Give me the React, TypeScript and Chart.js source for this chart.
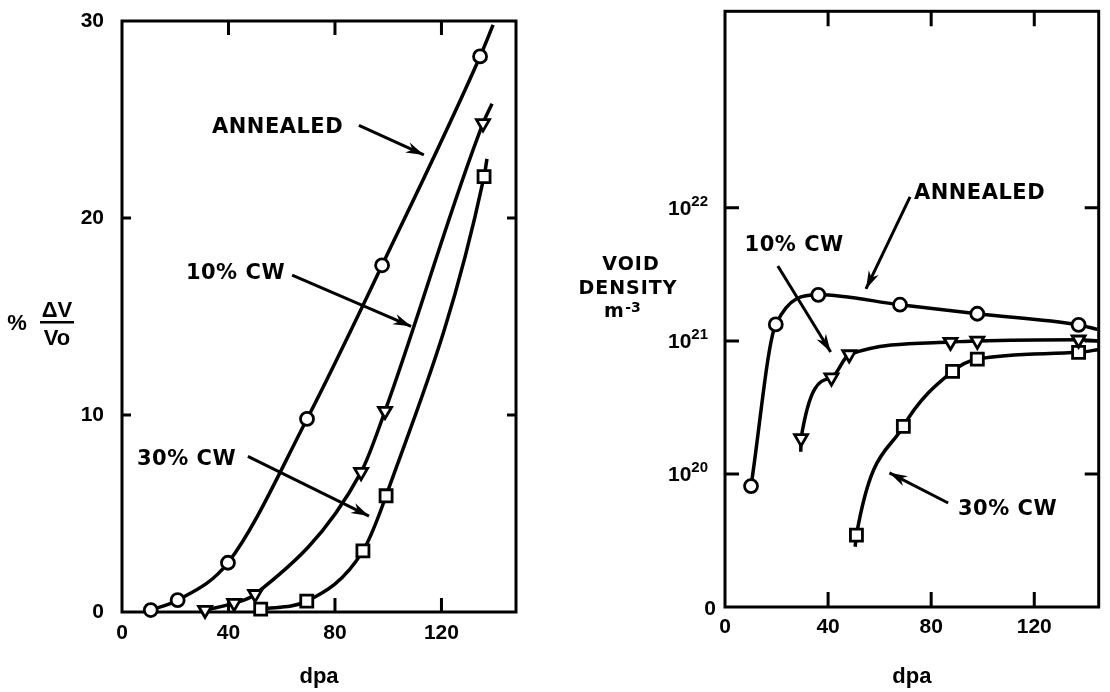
import React, { useEffect, useRef } from 'react';
import { Chart, registerables } from 'chart.js';
Chart.register(...registerables);

// ---------- axis ticks ----------
const dpaTicks = [0, 40, 80, 120];
const swellingTicks = [0, 10, 20, 30];
const densityTicks = [1e19, 1e20, 1e21, 1e22];
const densityTickBase = ['0', '10', '10', '10'];
const densityTickSup = ['', '20', '21', '22'];

// ---------- left panel: % ΔV/Vo vs dpa ----------
const swAnnealedX = [10.8, 20.9, 39.8, 69.5, 97.7, 134.5];
const swAnnealedY = [0.1, 0.6, 2.5, 9.8, 17.6, 28.2];
const sw10X = [31.2, 42.1, 50.0, 89.8, 98.8, 135.6];
const sw10Y = [0.1, 0.45, 0.9, 7.1, 10.2, 24.8];
const sw30X = [52.1, 69.4, 90.5, 99.2, 136.0];
const sw30Y = [0.15, 0.55, 3.1, 5.9, 22.1];
// where each drawn curve ends beyond its last point (annealed, 10% CW, 30% CW)
const swCurveEndX = [139.4, 139.0, 137.1];
const swCurveEndY = [29.8, 25.8, 23.0];

// ---------- right panel: void density vs dpa ----------
const vdAnnealedX = [10.1, 19.7, 36.2, 67.9, 97.9, 137.2];
const vdAnnealedY = [8.1e19, 1.33e21, 2.22e21, 1.87e21, 1.6e21, 1.32e21];
const vd10X = [29.5, 41.3, 48.2, 87.5, 97.9, 137.2];
const vd10Y = [1.85e20, 5.3e20, 7.9e20, 9.8e20, 1.0e21, 1.02e21];
const vd30X = [51.0, 69.2, 88.3, 97.9, 137.2];
const vd30Y = [3.47e19, 2.28e20, 5.9e20, 7.3e20, 8.2e20];
// curve starts below the first point (10% CW, 30% CW) and ends (annealed, 10%, 30%)
const vdCurveStartX = [29.4, 50.5];
const vdCurveStartY = [1.47e20, 2.84e19];
const vdCurveEndX = [144.5, 145.0, 145.0];
const vdCurveEndY = [1.22e21, 1.0e21, 8.6e20];

type Pt = { x: number; y: number };
const pts = (xs: number[], ys: number[]): Pt[] => xs.map((x, i) => ({ x, y: ys[i] }));

type Note = { text: string; tx: number; ty: number; from: [number, number]; to: [number, number] };

const leftNotes: Note[] = [
  { text: 'ANNEALED', tx: 33.8, ty: 24.6, from: [89, 24.7], to: [113.4, 23.2] },
  { text: '10% CW', tx: 24, ty: 17.2, from: [63.9, 17.1], to: [108.6, 14.5] },
  { text: '30% CW', tx: 5.6, ty: 7.75, from: [47.3, 7.9], to: [92.8, 4.87] },
];
const rightNotes: Note[] = [
  { text: 'ANNEALED', tx: 73.3, ty: 1.27e22, from: [71.8, 1.21e22], to: [54.7, 2.46e21] },
  { text: '10% CW', tx: 7.6, ty: 5.18e21, from: [20.5, 3.66e21], to: [41, 8.26e20] },
  { text: '30% CW', tx: 90.4, ty: 5.36e19, from: [86.6, 6.05e19], to: [63.8, 1.02e20] },
];

const SANS = '"Liberation Sans", Arial, sans-serif';
const TICK_FONT = { family: SANS, weight: 'bold' as const, size: 21 };
const NOTE_FONT = 'bold 21px "DejaVu Sans", sans-serif';

function drawArrow(ctx: CanvasRenderingContext2D, x1: number, y1: number, x2: number, y2: number) {
  ctx.beginPath();
  ctx.moveTo(x1, y1);
  ctx.lineTo(x2, y2);
  ctx.stroke();
  const a = Math.atan2(y2 - y1, x2 - x1);
  const c = Math.cos(a), s = Math.sin(a);
  const L = 18, W = 5.5;
  ctx.beginPath();
  ctx.moveTo(x2, y2);
  ctx.lineTo(x2 - L * c + W * s, y2 - L * s - W * c);
  ctx.lineTo(x2 - L * 0.7 * c, y2 - L * 0.7 * s);
  ctx.lineTo(x2 - L * c - W * s, y2 - L * s + W * c);
  ctx.closePath();
  ctx.fill();
}

function makeDecor(cfg: {
  xTicks: number[];
  yTicks: number[];
  xLen: number;
  yLen: number;
  notes: Note[];
  title: (ctx: CanvasRenderingContext2D, chart: any) => void;
}) {
  return {
    id: 'decor',
    beforeDatasetsDraw(chart: any) {
      const { ctx, chartArea: a, scales } = chart;
      ctx.save();
      ctx.strokeStyle = '#000';
      ctx.lineWidth = 3;
      ctx.strokeRect(a.left, a.top, a.right - a.left, a.bottom - a.top);
      ctx.beginPath();
      for (const v of cfg.xTicks) {
        const px = scales.x.getPixelForValue(v);
        ctx.moveTo(px, a.bottom);
        ctx.lineTo(px, a.bottom - cfg.xLen);
        ctx.moveTo(px, a.top);
        ctx.lineTo(px, a.top + cfg.xLen);
      }
      for (const v of cfg.yTicks) {
        const py = scales.y.getPixelForValue(v);
        ctx.moveTo(a.left, py);
        ctx.lineTo(a.left + cfg.yLen, py);
        ctx.moveTo(a.right, py);
        ctx.lineTo(a.right - cfg.yLen, py);
      }
      ctx.stroke();
      ctx.restore();
    },
    afterDatasetsDraw(chart: any) {
      const { ctx, scales } = chart;
      ctx.save();
      ctx.fillStyle = '#000';
      ctx.strokeStyle = '#000';
      ctx.lineWidth = 3;
      ctx.font = NOTE_FONT;
      (ctx as any).letterSpacing = '0.5px';
      ctx.textAlign = 'left';
      ctx.textBaseline = 'middle';
      for (const n of cfg.notes) {
        ctx.fillText(n.text, scales.x.getPixelForValue(n.tx), scales.y.getPixelForValue(n.ty));
        drawArrow(
          ctx,
          scales.x.getPixelForValue(n.from[0]),
          scales.y.getPixelForValue(n.from[1]),
          scales.x.getPixelForValue(n.to[0]),
          scales.y.getPixelForValue(n.to[1])
        );
      }
      (ctx as any).letterSpacing = '0px';
      cfg.title(ctx, chart);
      ctx.restore();
    },
  };
}

function curveDs(data: Pt[]) {
  return {
    type: 'line' as const,
    data,
    borderColor: '#000',
    borderWidth: 3.5,
    pointRadius: 0,
    fill: false,
    cubicInterpolationMode: 'monotone' as const,
    clip: false as any,
    order: 2,
  };
}
function markerDs(data: Pt[], style: string, radius: number, rotation = 0) {
  return {
    type: 'line' as const,
    data,
    showLine: false,
    pointStyle: style as any,
    pointRadius: radius,
    pointRotation: rotation,
    pointBorderWidth: 2.8,
    pointBorderColor: '#000',
    pointBackgroundColor: '#fff',
    clip: false as any,
    order: 1,
  };
}

const noPad = (s: any) => {
  s.paddingTop = 0;
  s.paddingBottom = 0;
  s.paddingLeft = 0;
  s.paddingRight = 0;
};

function dpaScale(xMax: number, tickPadX: number, axisHeight: number) {
  return {
    type: 'linear' as const,
    min: 0,
    max: xMax,
    afterBuildTicks: (s: any) => {
      s.ticks = dpaTicks.map((v) => ({ value: v }));
    },
    afterFit: (s: any) => {
      s.height = axisHeight;
      noPad(s);
    },
    grid: { display: false, drawTicks: false },
    border: { display: false },
    ticks: { color: '#000', font: TICK_FONT, padding: tickPadX, maxRotation: 0, autoSkip: false },
    title: {
      display: true,
      text: 'dpa',
      color: '#000',
      font: { family: SANS, weight: 'bold' as const, size: 22 },
      padding: { top: 0, bottom: 2 },
    },
  };
}

export default function App() {
  const leftRef = useRef<HTMLCanvasElement>(null);
  const rightRef = useRef<HTMLCanvasElement>(null);

  useEffect(() => {
    const leftDecor = makeDecor({
      xTicks: [40, 80, 120],
      yTicks: [10, 20],
      xLen: 14,
      yLen: 9,
      notes: leftNotes,
      title: (ctx) => {
        ctx.font = `bold 22px ${SANS}`;
        ctx.textAlign = 'center';
        ctx.textBaseline = 'middle';
        ctx.fillText('%', 17, 324);
        ctx.fillText('ΔV', 57, 311);
        ctx.fillRect(40, 321, 34, 2.5);
        ctx.fillText('Vo', 57, 339);
      },
    });

    const left = new Chart(leftRef.current!, {
      type: 'line',
      data: {
        datasets: [
          markerDs(pts(swAnnealedX, swAnnealedY), 'circle', 6.5),
          markerDs(pts(sw10X, sw10Y), 'triangle', 7.5, 180),
          markerDs(pts(sw30X, sw30Y), 'rect', 8.5),
          curveDs([...pts(swAnnealedX, swAnnealedY), { x: swCurveEndX[0], y: swCurveEndY[0] }]),
          curveDs([...pts(sw10X, sw10Y), { x: swCurveEndX[1], y: swCurveEndY[1] }]),
          curveDs([...pts(sw30X, sw30Y), { x: swCurveEndX[2], y: swCurveEndY[2] }]),
        ] as any,
      },
      options: {
        responsive: false,
        animation: false,
        parsing: false as any,
        layout: { padding: { left: 0, right: 44, top: 21, bottom: 0 } },
        plugins: { legend: { display: false }, tooltip: { enabled: false } },
        scales: {
          x: dpaScale(148, 9, 80) as any,
          y: {
            type: 'linear',
            min: 0,
            max: 30,
            afterBuildTicks: (s: any) => {
              s.ticks = swellingTicks.map((v) => ({ value: v }));
            },
            afterFit: (s: any) => {
              s.width = 122;
              noPad(s);
            },
            grid: { display: false, drawTicks: false },
            border: { display: false },
            ticks: { color: '#000', font: TICK_FONT, padding: 18 },
          },
        },
      },
      plugins: [leftDecor as any],
    });

    const rightDecor = makeDecor({
      xTicks: [40, 80, 120],
      yTicks: [1e20, 1e21, 1e22],
      xLen: 15,
      yLen: 14,
      notes: rightNotes,
      title: (ctx, chart) => {
        // y tick labels (powers of ten) placed by the log scale
        const ys = chart.scales.y;
        const edge = chart.chartArea.left;
        ctx.textBaseline = 'middle';
        densityTicks.forEach((v, i) => {
          const py = ys.getPixelForValue(v);
          const sup = densityTickSup[i];
          if (!sup) {
            ctx.font = `bold 21px ${SANS}`;
            ctx.textAlign = 'right';
            ctx.fillText(densityTickBase[i], edge - 9, py + 2);
            return;
          }
          ctx.font = `bold 15px ${SANS}`;
          const sw = ctx.measureText(sup).width;
          ctx.textAlign = 'left';
          ctx.fillText(sup, edge - 17 - sw, py - 6);
          ctx.font = `bold 21px ${SANS}`;
          ctx.textAlign = 'right';
          ctx.fillText(densityTickBase[i], edge - 17 - sw, py + 1);
        });
        ctx.font = 'bold 19px "DejaVu Sans", sans-serif';
        (ctx as any).letterSpacing = '1px';
        ctx.textAlign = 'center';
        ctx.fillText('VOID', 71, 265);
        ctx.fillText('DENSITY', 68, 289);
        (ctx as any).letterSpacing = '0px';
        ctx.fillText('m', 54, 312);
        ctx.font = 'bold 14px "DejaVu Sans", sans-serif';
        ctx.fillText('-3', 73, 308);
      },
    });

    const right = new Chart(rightRef.current!, {
      type: 'line',
      data: {
        datasets: [
          markerDs(pts(vdAnnealedX, vdAnnealedY), 'circle', 6.5),
          markerDs(pts(vd10X, vd10Y), 'triangle', 7.5, 180),
          markerDs(pts(vd30X, vd30Y), 'rect', 8.5),
          curveDs([...pts(vdAnnealedX, vdAnnealedY), { x: vdCurveEndX[0], y: vdCurveEndY[0] }]),
          curveDs([
            { x: vdCurveStartX[0], y: vdCurveStartY[0] },
            ...pts(vd10X, vd10Y),
            { x: vdCurveEndX[1], y: vdCurveEndY[1] },
          ]),
          curveDs([
            { x: vdCurveStartX[1], y: vdCurveStartY[1] },
            ...pts(vd30X, vd30Y),
            { x: vdCurveEndX[2], y: vdCurveEndY[2] },
          ]),
        ] as any,
      },
      options: {
        responsive: false,
        animation: false,
        parsing: false as any,
        layout: { padding: { left: 0, right: 3, top: 11, bottom: 0 } },
        plugins: { legend: { display: false }, tooltip: { enabled: false } },
        scales: {
          x: dpaScale(145, 8, 85) as any,
          y: {
            type: 'logarithmic',
            min: 1e19,
            max: 3e23,
            afterBuildTicks: (s: any) => {
              s.ticks = densityTicks.map((v) => ({ value: v }));
            },
            afterFit: (s: any) => {
              s.width = 165;
              noPad(s);
            },
            grid: { display: false, drawTicks: false },
            border: { display: false },
            ticks: { display: false },
          },
        },
      },
      plugins: [rightDecor as any],
    });

    return () => {
      left.destroy();
      right.destroy();
    };
  }, []);

  return (
    <div style={{ position: 'fixed', left: 0, top: 0, width: 1110, height: 692, background: '#fff' }}>
      <canvas ref={leftRef} width={560} height={692} style={{ position: 'absolute', left: 0, top: 0 }} />
      <canvas ref={rightRef} width={550} height={692} style={{ position: 'absolute', left: 560, top: 0 }} />
    </div>
  );
}
